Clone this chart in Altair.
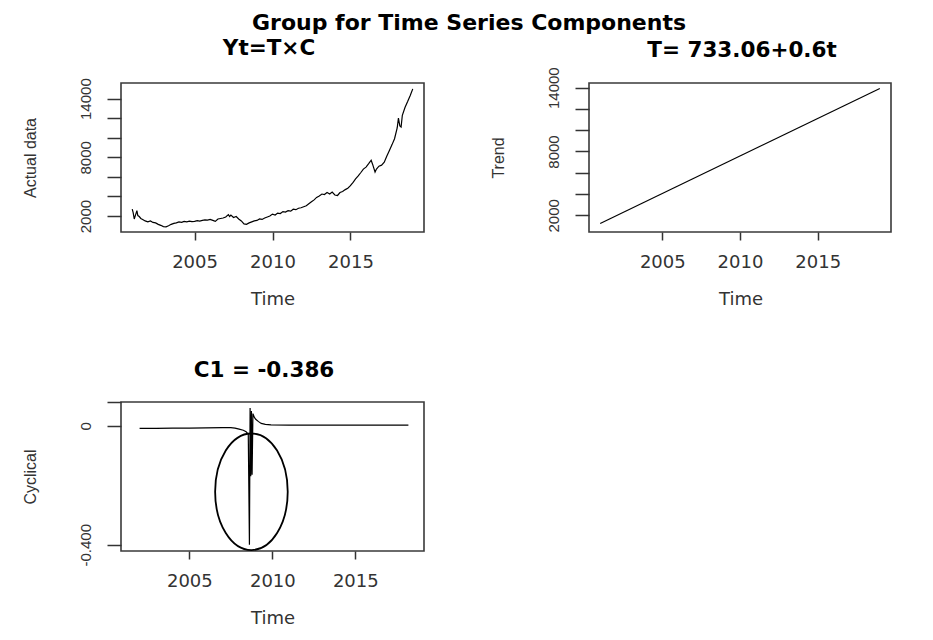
import altair as alt
import pandas as pd

# ---------------- data ----------------
actual_year = [2001.00, 2001.06, 2001.13, 2001.22, 2001.30, 2001.36, 2001.45, 2001.55, 2001.67, 2001.83,
               2002.00, 2002.17, 2002.33, 2002.50, 2002.67, 2002.83, 2003.00, 2003.17, 2003.33, 2003.50,
               2003.67, 2003.83, 2004.00, 2004.17, 2004.33, 2004.50, 2004.67, 2004.83, 2005.00, 2005.17,
               2005.33, 2005.50, 2005.67, 2005.83, 2006.00, 2006.17, 2006.33, 2006.50, 2006.67, 2006.83,
               2007.00, 2007.17, 2007.25, 2007.33, 2007.50, 2007.67, 2007.83, 2008.00, 2008.17, 2008.33,
               2008.50, 2008.67, 2008.83, 2009.00, 2009.17, 2009.33, 2009.50, 2009.67, 2009.83, 2010.00,
               2010.17, 2010.33, 2010.50, 2010.67, 2010.83, 2011.00, 2011.17, 2011.33, 2011.50, 2011.67,
               2011.83, 2012.00, 2012.17, 2012.33, 2012.50, 2012.67, 2012.83, 2013.00, 2013.17, 2013.33,
               2013.50, 2013.67, 2013.83, 2014.00, 2014.17, 2014.33, 2014.50, 2014.67, 2014.83, 2015.00,
               2015.17, 2015.33, 2015.50, 2015.67, 2015.83, 2016.00, 2016.17, 2016.33, 2016.42, 2016.50,
               2016.58, 2016.67, 2016.83, 2017.00, 2017.17, 2017.33, 2017.50, 2017.67, 2017.83, 2018.00,
               2018.08, 2018.17, 2018.25, 2018.33, 2018.50, 2018.67, 2018.83, 2019.00]
actual_value = [2700, 2350, 1700, 2150, 2550, 2050, 1950, 1750, 1650, 1500,
                1400, 1500, 1350, 1300, 1150, 1050, 920, 900, 1000, 1150,
                1250, 1300, 1400, 1350, 1450, 1400, 1480, 1420, 1450, 1520,
                1480, 1550, 1600, 1580, 1650, 1550, 1450, 1700, 1750, 1800,
                1900, 2150, 1950, 2100, 1850, 1950, 1700, 1500, 1200, 1150,
                1300, 1400, 1500, 1550, 1700, 1650, 1800, 1900, 2000, 2200,
                2100, 2300, 2250, 2450, 2400, 2550, 2500, 2700, 2650, 2800,
                2850, 2950, 3050, 3250, 3450, 3650, 3900, 4050, 4250, 4200,
                4400, 4250, 4450, 4150, 4100, 4400, 4500, 4700, 4850, 5100,
                5450, 5800, 6100, 6450, 6800, 7000, 7350, 7700, 7300, 6900,
                6500, 6800, 7100, 7200, 7500, 8100, 8700, 9300, 9900, 11000,
                12000, 11200, 11100, 12300, 13100, 13700, 14300, 15000]

trend_year = [2001.0, 2019.0]
trend_value = [1230, 13930]

cyc_year = [2002.0, 2003.0, 2004.0, 2005.0, 2006.0, 2007.0, 2007.5, 2007.75, 2008.0, 2008.25,
            2008.42, 2008.55, 2008.62, 2008.66, 2008.70, 2008.74, 2008.78, 2008.83, 2008.92, 2009.0,
            2009.17, 2009.33, 2009.58, 2009.92, 2011.0, 2013.0, 2015.0, 2017.0, 2018.2]
cyc_value = [-0.009, -0.009, -0.008, -0.008, -0.007, -0.006, -0.006, -0.008, -0.011, -0.015,
             -0.020, -0.028, -0.400, 0.060, -0.170, 0.050, -0.165, 0.041, 0.028, 0.022,
             0.014, 0.008, 0.005, 0.003, 0.002, 0.002, 0.002, 0.002, 0.002]

ellipse_year = [2008.74]
ellipse_value = [-0.222]

main_title = "Group for Time Series Components"
panel_titles = ["Yt=T\u00d7C", "T= 733.06+0.6t", "C1 = -0.386"]
y_titles = ["Actual data", "Trend", "Cyclical"]
x_ticks = [2005, 2010, 2015]
big_ticks = [2000, 4000, 6000, 8000, 10000, 12000, 14000]
cyc_ticks = [-0.4, 0, 0.08]

# ---------------- styling ----------------
W, H = 303, 149
HFONT = "DejaVu Sans"
VFONT = "Liberation Sans"
GREY = "#333333"
# ellipse outline as a custom symbol (unit square -1..1)
a, k = 0.6226, 0.5523
ak = round(a * k, 4)
ELLIPSE = (f"M0,-1C{ak},-1,{a},-{k},{a},0C{a},{k},{ak},1,0,1"
           f"C-{ak},1,-{a},{k},-{a},0C-{a},-{k},-{ak},-1,0,-1Z")


def x_enc(domain):
    return alt.X("year:Q", scale=alt.Scale(domain=domain, nice=False, zero=False),
                 axis=alt.Axis(values=x_ticks, format="d", title="Time",
                               tickSize=8, tickWidth=1.5, tickColor=GREY,
                               labelFont=HFONT, labelFontSize=18, labelColor=GREY,
                               labelPadding=13, labelFlush=False, labelOverlap=False,
                               titleFont=HFONT, titleFontSize=18, titleFontWeight="normal",
                               titleColor=GREY, titleX=W / 2, titleY=72,
                               titleBaseline="alphabetic", titleAlign="center",
                               domain=False, grid=False))


def y_enc(domain, values, label_expr, title, fmt):
    return alt.Y("value:Q", scale=alt.Scale(domain=domain, nice=False, zero=False),
                 axis=alt.Axis(values=values, labelExpr=label_expr, title=title, format=fmt,
                               tickSize=14, tickWidth=1.5, tickColor=GREY,
                               labelAngle=270, labelAlign="center", labelBaseline="alphabetic",
                               labelPadding=17, labelFont=VFONT, labelFontSize=15,
                               labelColor=GREY, labelFlush=False, labelOverlap=False,
                               titleFont=VFONT, titleFontSize=16, titleFontWeight="normal",
                               titleColor=GREY, titleAngle=270, titleAlign="center",
                               titleBaseline="alphabetic", titleX=-86, titleY=H / 2,
                               domain=False, grid=False))


def title_mark(text, x, y, size):
    return alt.Chart(pd.DataFrame({"t": [text]})).mark_text(
        font=HFONT, fontSize=size, fontWeight="bold", color="black",
        align="center", baseline="alphabetic"
    ).encode(x=alt.value(x), y=alt.value(y), text="t:N")


big_expr = "(datum.value == 2000 || datum.value == 8000 || datum.value == 14000) ? datum.label : ''"
cyc_expr = "abs(datum.value) < 0.000001 ? '0' : (abs(datum.value + 0.4) < 0.000001 ? '-0.400' : '')"

df1 = pd.DataFrame({"year": actual_year, "value": actual_value})
df2 = pd.DataFrame({"year": trend_year, "value": trend_value})
df3 = pd.DataFrame({"year": cyc_year, "value": cyc_value})
df4 = pd.DataFrame({"year": ellipse_year, "value": ellipse_value})

xd1 = [2000.28, 2019.72]
line1 = alt.Chart(df1).mark_line(color="black", strokeWidth=1.2).encode(
    x=x_enc(xd1), y=y_enc([368, 15598], big_ticks, big_expr, y_titles[0], "d"), order="year:Q")
p1 = alt.layer(
    line1,
    title_mark(panel_titles[0], 148, -28, 21.5),
    title_mark(main_title, 348, -53, 22),
).properties(width=W, height=H)

line2 = alt.Chart(df2).mark_line(color="black", strokeWidth=1.2).encode(
    x=x_enc(xd1), y=y_enc([430, 14440], big_ticks, big_expr, y_titles[1], "d"))
p2 = alt.layer(line2, title_mark(panel_titles[1], 153, -26.5, 21.5)).properties(width=W - 1, height=H)

xd3 = [2000.88, 2019.14]
yd3 = [-0.421, 0.08]
line3 = alt.Chart(df3).mark_line(color="black", strokeWidth=1.2).encode(
    x=x_enc(xd3), y=y_enc(yd3, cyc_ticks, cyc_expr, y_titles[2], ".3f"), order="year:Q")
ell = alt.Chart(df4).mark_point(shape=ELLIPSE, size=13596, filled=False, stroke="black",
                                strokeWidth=1.8, opacity=1).encode(
    x=x_enc(xd3), y=y_enc(yd3, cyc_ticks, cyc_expr, y_titles[2], ".3f"))
p3 = alt.layer(line3, ell, title_mark(panel_titles[2], 143, -25, 21.5)).properties(width=W, height=H)

top = alt.hconcat(p1, p2, spacing=165, bounds="flush")
chart = alt.vconcat(top, p3, spacing=319, bounds="flush").properties(
    padding={"left": 13, "top": 3, "right": 5, "bottom": 5},
    background="white",
).configure_view(stroke="#3a3a3a", strokeWidth=1.6)

chart.save("out.html", embed_options={"renderer": "svg", "actions": False})
